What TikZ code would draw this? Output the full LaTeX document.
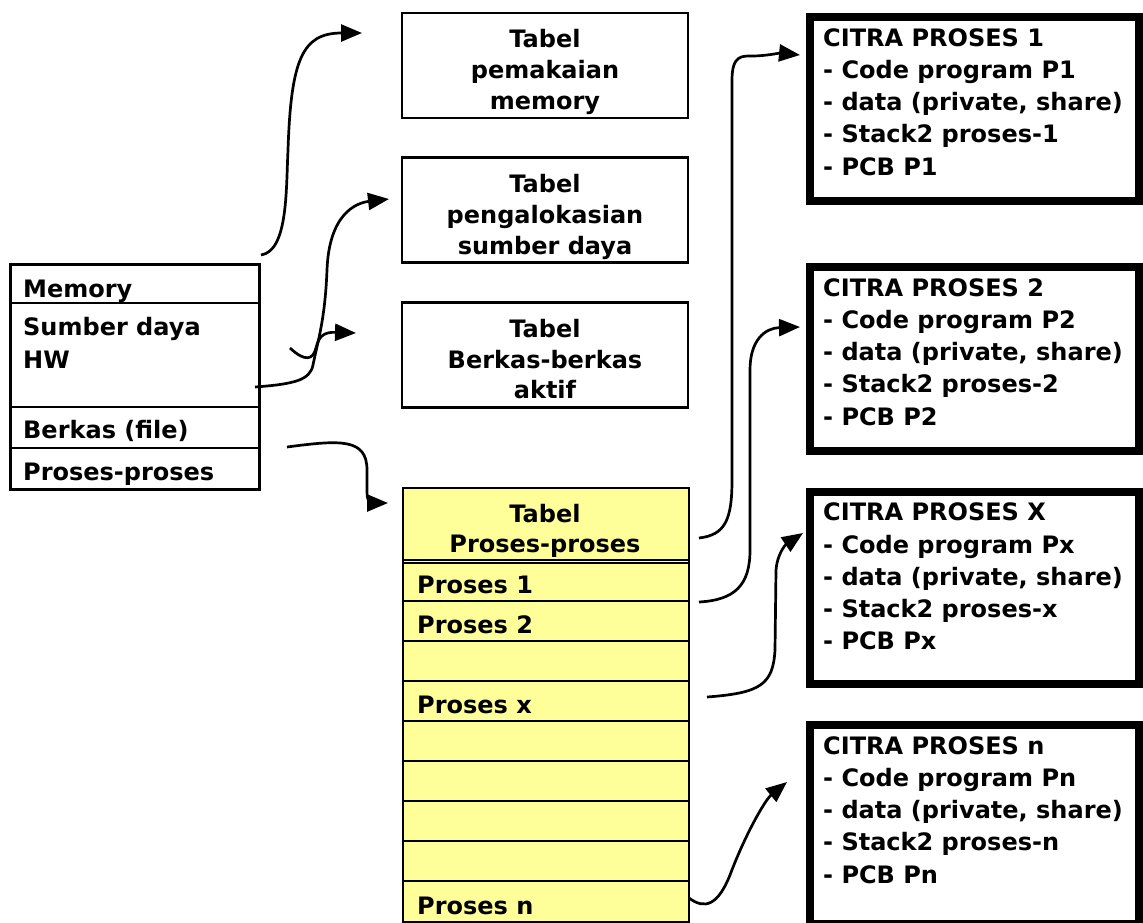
\documentclass[tikz,border=0pt]{standalone}
\usepackage{fontspec}
\newfontfamily\tah{DejaVu Sans}
\usetikzlibrary{arrows.meta}
\definecolor{tblyellow}{HTML}{FFFF99}
\tikzset{
  txt/.style={font=\tah\bfseries\fontsize{24}{29}\selectfont, inner sep=0pt, anchor=base west},
  ctxt/.style={font=\tah\bfseries\fontsize{24}{29}\selectfont, inner sep=0pt, anchor=base},
  thinbox/.style={draw, line width=2.7pt, minimum width=286pt, minimum height=105pt, inner sep=0pt},
  thickbox/.style={draw, line width=8pt, inner sep=0pt},
  conn/.style={line width=2.7pt, -{Triangle[length=21pt,width=17pt]}},
  tline/.style={line width=1.2pt},
}
\begin{document}
\begin{tikzpicture}[x=1pt,y=-1pt]
\useasboundingbox (0,0) rectangle (1143,922);
% left table
\node[draw, line width=2.7pt, minimum width=249pt, minimum height=225pt, inner sep=0pt, anchor=north west] (left) at (9,263) {};
\draw[line width=2.7pt] (9,303) -- (258,303) (9,407) -- (258,407) (9,448) -- (258,448);
\node[txt] (lmem) at (23,297) {Memory};
\node[txt] (lsd) at (23,335) {Sumber daya};
\node[txt] (lhw) at (23,368) {HW};
\node[txt] (lberk) at (23,438) {Berkas (file)};
\node[txt] (lpro) at (23,480) {Proses-proses};
% middle boxes
\node[thinbox] (m1) at (545,65.5) {};
\node[ctxt] at (545,47) {Tabel};
\node[ctxt] at (545,78) {pemakaian};
\node[ctxt] at (545,109) {memory};
\node[thinbox] (m2) at (545,210) {};
\node[ctxt] at (545,192) {Tabel};
\node[ctxt] at (545,223) {pengalokasian};
\node[ctxt] at (545,254) {sumber daya};
\node[thinbox] (m3) at (545,355) {};
\node[ctxt] at (545,337) {Tabel};
\node[ctxt] at (545,368) {Berkas-berkas};
\node[ctxt] at (545,398) {aktif};
% yellow table
\node[draw, fill=tblyellow, line width=2pt, minimum width=286pt, minimum height=434pt, inner sep=0pt, anchor=north west] (ytab) at (402,487) {};
\draw[tline] (402,560) -- (688,560) (402,563) -- (688,563);
\foreach \yy in {601,641,681,761,801,841,881} \draw[tline] (402,\yy) -- (688,\yy);
\draw[line width=1.8pt] (402,721) -- (688,721);
\node[ctxt] (yt1) at (545,522) {Tabel};
\node[ctxt] (yt2) at (545,552) {Proses-proses};
\node[txt] (yp1) at (417,593) {Proses 1};
\node[txt] (yp2) at (417,633) {Proses 2};
\node[txt] (ypx) at (417,713) {Proses x};
\node[txt] (ypn) at (417,914) {Proses n};
% right boxes
\node[thickbox, minimum width=329.5pt, minimum height=184pt] (c1) at (974.25,109) {};
\node[thickbox, minimum width=329.5pt, minimum height=184pt] (c2) at (974.25,359) {};
\node[thickbox, minimum width=329.5pt, minimum height=192.5pt] (cx) at (974.25,587.75) {};
\node[thickbox, minimum width=329.5pt, minimum height=199.5pt] (cn) at (974.25,824.25) {};
\foreach \b/\y/\s in {1/46/1, 2/296/2, 3/520.7/x, 4/754/n}{
  \pgfmathsetmacro\ya{\y}
  \pgfmathsetmacro\yb{\y+32.3}
  \pgfmathsetmacro\yc{\y+64.6}
  \pgfmathsetmacro\yd{\y+96.9}
  \pgfmathsetmacro\ye{\y+129.2}
  \ifnum\b=3 \def\T{X}\else\def\T{\s}\fi
  \node[txt] at (823,\ya) {CITRA PROSES \T};
  \node[txt] at (823,\yb) {- Code program P\s};
  \node[txt] at (823,\yc) {- data (private, share)};
  \node[txt] at (823,\yd) {- Stack2 proses-\s};
  \node[txt] at (823,\ye) {- PCB P\s};
}
% connector endpoints
\coordinate (s1) at (261,255); \coordinate (e1) at (362,33);
\coordinate (s2) at (255,387); \coordinate (e2) at (389,199);
\coordinate (s3) at (290,348); \coordinate (e3) at (356,333);
\coordinate (s4) at (287,447); \coordinate (e4) at (388,503);
\coordinate (s5) at (699,538); \coordinate (e5) at (800,55);
\coordinate (s6) at (699,602); \coordinate (e6) at (800,327);
\coordinate (s7) at (707,697); \coordinate (e7) at (803,533);
\coordinate (s8) at (689,898); \coordinate (e8) at (787,782);
% connectors
\draw[conn] (s1) .. controls (288,251) and (286,190) .. (288,150) .. controls (291,60) and (302,33) .. (e1);
\draw[conn] (s2) .. controls (295,384) and (310,380) .. (313,365) .. controls (318,340) and (325,320) .. (327,270) .. controls (329,215) and (355,203) .. (e2);
\draw[conn] (s3) .. controls (305,362) and (313,360) .. (316,348) .. controls (319,335) and (325,332) .. (e3);
\draw[conn] (s4) .. controls (340,440) and (367,438) .. (367,470) -- (367,492) .. controls (367,503) and (372,503) .. (e4);
\draw[conn] (s5) .. controls (725,535) and (732,520) .. (732,480) -- (732,80) .. controls (732,55) and (742,56) .. (752,56) .. controls (765,56) and (780,53) .. (e5);
\draw[conn] (s6) .. controls (735,600) and (750,585) .. (750,550) -- (750,370) .. controls (750,340) and (765,328) .. (e6);
\draw[conn] (s7) .. controls (760,693) and (773,685) .. (775,650) -- (776,570) .. controls (777,555) and (785,545) .. (e7);
\draw[conn] (s8) .. controls (705,910) and (718,905) .. (730,875) .. controls (745,835) and (765,800) .. (e8);
\end{tikzpicture}
\end{document}
